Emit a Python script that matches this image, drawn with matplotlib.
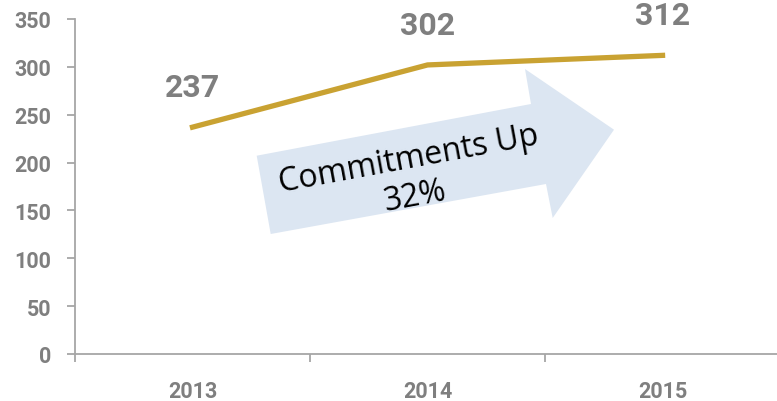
import matplotlib
matplotlib.use("Agg")
import matplotlib.pyplot as plt
from matplotlib.patches import Polygon

years = ["2013", "2014", "2015"]
commitments = [237, 302, 312]
y_ticks = [0, 50, 100, 150, 200, 250, 300, 350]
arrow_text = "Commitments Up\n32%"

FONT = "Roboto"
W, H = 777, 402
fig = plt.figure(figsize=(W / 100, H / 100), dpi=100)
ax = fig.add_axes([75 / W, 47 / H, (W - 75) / W, 335 / H])

x = list(range(len(years)))
ax.plot(x, commitments, color="#C9A232", lw=3.8, solid_joinstyle="miter", zorder=3)
for xi, v in zip(x, commitments):
    ax.annotate(str(v), (xi, v), xytext=(0, 29), textcoords="offset points",
                ha="center", va="center", fontsize=23, fontweight="bold",
                color="#7F7F7F", family=FONT)

ax.set_xlim(-0.5, 2.487)
ax.set_ylim(0, 350)
ax.set_yticks(y_ticks)
ax.set_yticklabels([str(t) for t in y_ticks])
ax.set_xticks(x)
ax.set_xticklabels(years)
ax.set_xticks([-0.5, 0.5, 1.5], minor=True)

gray = "#A6A6A6"
for s in ["top", "right"]:
    ax.spines[s].set_visible(False)
for s in ["left", "bottom"]:
    ax.spines[s].set_color(gray)
    ax.spines[s].set_linewidth(1.3)

ax.tick_params(axis="x", which="major", length=0, pad=19, labelsize=15.5, labelcolor="#7F7F7F")
ax.tick_params(axis="x", which="minor", length=6, width=1.3, color=gray, direction="out")
ax.tick_params(axis="y", length=6, width=1.3, color=gray, pad=11, labelsize=15.5, labelcolor="#7F7F7F")
for lab in ax.get_xticklabels() + ax.get_yticklabels():
    lab.set_fontweight("bold")
    lab.set_family(FONT)

# Decorative arrow in figure-pixel coordinates (y measured from top)
pts = [(270.7, 235), (256.7, 156.7), (531, 105), (525, 70), (614, 130.7),
       (552.7, 219), (546, 185)]
poly = Polygon([(px, H - py) for px, py in pts], closed=True, facecolor="#DCE6F2",
               edgecolor="none", transform=None, zorder=1)
fig.patches.append(poly)
fig.text(412 / W, 1 - 178 / H, arrow_text, rotation=10.5, rotation_mode="anchor",
         ha="center", va="center", fontsize=23, family="Open Sans", color="black",
         linespacing=1.2, zorder=4)

fig.savefig("out.png", dpi=100)
